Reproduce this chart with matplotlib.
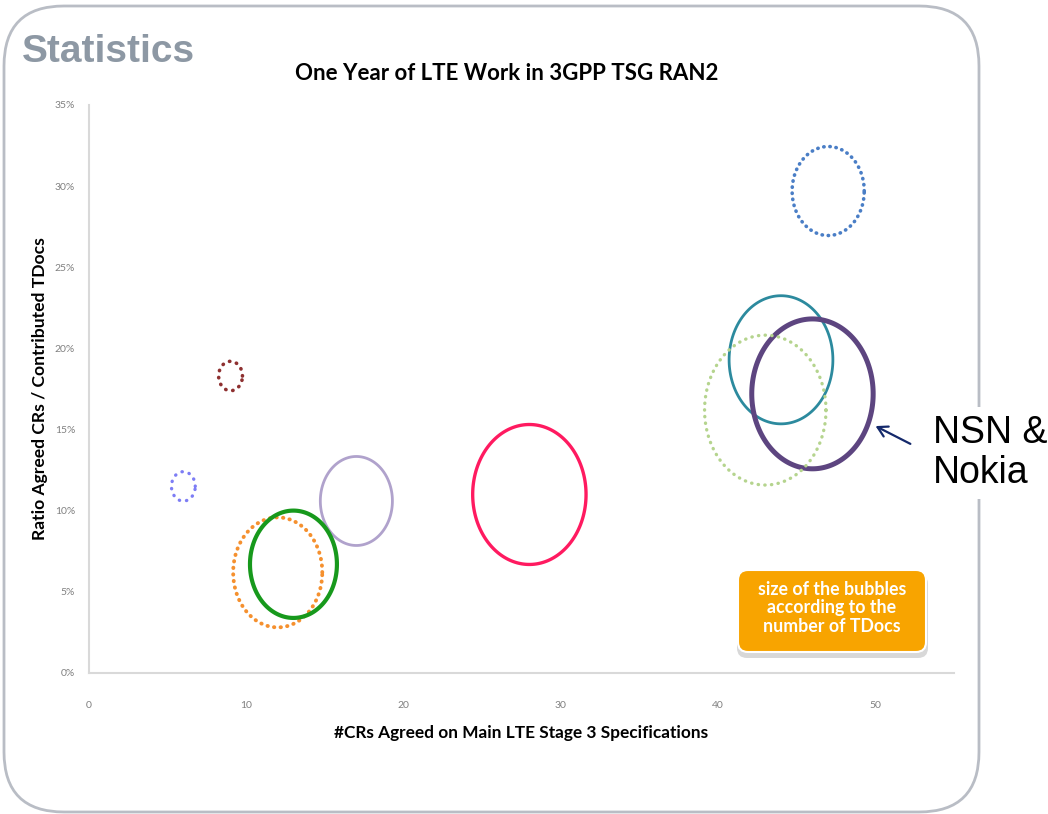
import numpy as np
import matplotlib.pyplot as plt
from matplotlib.path import Path
from matplotlib.patches import FancyBboxPatch
from matplotlib.ticker import PercentFormatter

# CRs agreed per company, ratio of agreed CRs to contributed TDocs, relative TDoc volume
crs_agreed = [47, 44, 46, 43, 28, 17, 13, 12, 9, 6]
agreed_ratio = [29.7, 19.3, 17.2, 16.2, 11.0, 10.6, 6.7, 6.2, 18.3, 11.5]
tdocs = [55, 114, 156, 156, 136, 55, 80, 84, 6, 6]

# outline colour, line width, dot gap (None = solid line)
colors = ['#4a7ec6', '#2c8a9e', '#5d4580', '#b5d48e', '#ff1a60',
          '#b0a2cc', '#17991c', '#f5902e', '#8e3030', '#7d7df5']
widths = [2.6, 2.0, 3.6, 2.4, 2.4, 2.0, 3.0, 2.8, 2.6, 2.4]
gaps = [1.6, None, None, 1.9, None, None, None, 1.6, 1.9, 2.1]
draw_order = [0, 1, 2, 3, 4, 5, 7, 6, 8, 9]

x_ticks = [0, 10, 20, 30, 40, 50]
y_ticks = [0, 5, 10, 15, 20, 25, 30, 35]

fig = plt.figure(figsize=(10.48, 8.14), dpi=100)
fig.patch.set_facecolor('white')

# rounded slide frame
frame = FancyBboxPatch((0.04, 0.02), 9.75, 8.06,
                       boxstyle='round,pad=0,rounding_size=0.6',
                       transform=fig.dpi_scale_trans, facecolor='none',
                       edgecolor='#b9bdc5', linewidth=2.0, zorder=-1)
fig.patches.append(frame)

label_font = 'Lato'

fig.text(22 / 1048, 1 - 52 / 814, 'Statistics', fontsize=28, fontweight='bold',
         color='#8d98a4', family='Liberation Sans', ha='left', va='center')
fig.text(507 / 1048, 1 - 74 / 814, 'One Year of LTE Work in 3GPP TSG RAN2',
         fontsize=16, fontweight='bold', family=label_font, ha='center', va='center')

ax = fig.add_axes([89 / 1048, 1 - 673 / 814, 865 / 1048, 568 / 814])
ax.set_facecolor('none')
ax.set_xlim(0, 55)
ax.set_ylim(0, 35)
ax.set_xticks(x_ticks)
ax.set_yticks(y_ticks)
ax.yaxis.set_major_formatter(PercentFormatter(decimals=0))
ax.tick_params(length=0, labelsize=7.5, labelcolor='#808080')
ax.tick_params(axis='x', pad=20)
ax.tick_params(axis='y', pad=10)
for lbl in ax.get_xticklabels() + ax.get_yticklabels():
    lbl.set_family(label_font)
for side in ['top', 'right']:
    ax.spines[side].set_visible(False)
for side in ['left', 'bottom']:
    ax.spines[side].set_color('#d9d9d9')
    ax.spines[side].set_linewidth(1.5)

ax.set_xlabel('#CRs Agreed on Main LTE Stage 3 Specifications', fontsize=12.4,
              fontweight='bold', family=label_font, labelpad=11)
ax.set_ylabel('Ratio Agreed CRs / Contributed TDocs', fontsize=12.6,
              fontweight='bold', family=label_font, labelpad=5)

# bubbles are slightly taller than wide
theta = np.linspace(0, 2 * np.pi, 200)
ellipse = Path(np.column_stack([0.81 * np.cos(theta), np.sin(theta)]), closed=True)

for i in draw_order:
    size = 74.65 * tdocs[i]
    style = 'solid' if gaps[i] is None else (0, (0.1, gaps[i]))
    ax.scatter([crs_agreed[i]], [agreed_ratio[i]], s=size, marker=ellipse,
               facecolors='none', edgecolors=colors[i], linewidths=widths[i],
               linestyle=style, capstyle='round', zorder=3)

# arrow to the NSN & Nokia bubble
nsn = 2
ax.annotate('', xy=(crs_agreed[nsn], agreed_ratio[nsn]), xycoords='data',
            xytext=(70.5, -36), textcoords='offset points',
            arrowprops=dict(arrowstyle='->,head_length=0.7,head_width=0.4',
                            color='#14296b', lw=1.6, shrinkA=0, shrinkB=51),
            zorder=4, annotation_clip=False)
fig.text(933 / 1048, 1 - 453 / 814, 'NSN &\nNokia', fontsize=27,
         family='Liberation Sans', ha='left', va='center', linespacing=1.15,
         bbox=dict(facecolor='white', edgecolor='none', pad=6))

# note box
shadow = FancyBboxPatch((7.37, 8.14 - 6.58), 1.91, 0.84,
                        boxstyle='round,pad=0,rounding_size=0.1',
                        transform=fig.dpi_scale_trans, facecolor='#d8d8d8',
                        edgecolor='none', zorder=1)
note = FancyBboxPatch((7.38, 8.14 - 6.52), 1.88, 0.82,
                      boxstyle='round,pad=0,rounding_size=0.1',
                      transform=fig.dpi_scale_trans, facecolor='#f8a400',
                      edgecolor='white', linewidth=1.5, zorder=2)
fig.patches.extend([shadow, note])
fig.text(832 / 1048, 1 - 608 / 814, 'size of the bubbles\naccording to the\nnumber of TDocs',
         fontsize=12.8, fontweight='bold', family=label_font, color='white',
         ha='center', va='center', linespacing=1.1, zorder=3)

fig.savefig('out.png', dpi=100)
